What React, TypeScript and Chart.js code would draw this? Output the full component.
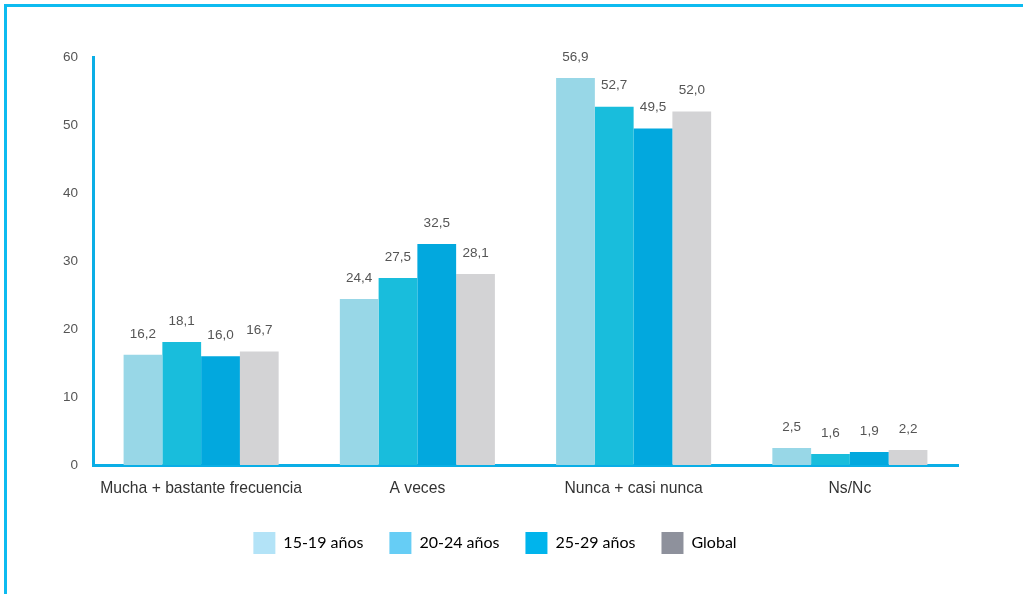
import React, { useEffect, useRef } from "react";
import { Chart, registerables } from "chart.js";

Chart.register(...registerables);

const categories = ["Mucha + bastante frecuencia", "A veces", "Nunca + casi nunca", "Ns/Nc"];
const seriesNames = ["15-19 años", "20-24 años", "25-29 años", "Global"];
const values1519 = [16.2, 24.4, 56.9, 2.5];
const values2024 = [18.1, 27.5, 52.7, 1.6];
const values2529 = [16.0, 32.5, 49.5, 1.9];
const valuesGlobal = [16.7, 28.1, 52.0, 2.2];
const yTicks = [0, 10, 20, 30, 40, 50, 60];

const barColors = ["#98D7E7", "#19BDDC", "#02A8DE", "#D3D3D5"];
const legendColors = ["#B3E3F7", "#66CDF5", "#00B4EC", "#8E919C"];

const valueLabels = {
  id: "valueLabels",
  afterDatasetsDraw(chart: any) {
    const ctx = chart.ctx;
    ctx.save();
    ctx.font = '13.5px "Liberation Sans", Arial, sans-serif';
    ctx.fillStyle = "#555555";
    ctx.textAlign = "center";
    ctx.textBaseline = "middle";
    chart.data.datasets.forEach((ds: any, di: number) => {
      const meta = chart.getDatasetMeta(di);
      meta.data.forEach((el: any, i: number) => {
        const v = ds.data[i] as number;
        ctx.fillText(v.toFixed(1).replace(".", ","), el.x, el.y - 21);
      });
    });
    ctx.restore();
  },
};

export default function App() {
  const ref = useRef<HTMLCanvasElement>(null);
  useEffect(() => {
    if (!ref.current) return;
    const all = [values1519, values2024, values2529, valuesGlobal];
    const chart = new Chart(ref.current, {
      type: "bar",
      data: {
        labels: categories,
        datasets: all.map((d, i) => ({
          label: seriesNames[i],
          data: d,
          backgroundColor: barColors[i],
          borderWidth: 0,
          categoryPercentage: 0.717,
          barPercentage: 1,
        })),
      },
      options: {
        responsive: false,
        animation: false,
        layout: { padding: { left: 32, right: 65, top: 57, bottom: 30 } },
        plugins: {
          tooltip: { enabled: false },
          legend: {
            position: "bottom",
            labels: {
              boxWidth: 22,
              boxHeight: 22,
              padding: 26,
              color: "#3A3A48",
              font: { family: "Lato, 'Open Sans', sans-serif", size: 16 },
              generateLabels: () =>
                seriesNames.map((n, i) => ({
                  text: n,
                  fillStyle: legendColors[i],
                  strokeStyle: legendColors[i],
                  lineWidth: 0,
                  hidden: false,
                  datasetIndex: i,
                })),
            },
          },
        },
        scales: {
          x: {
            grid: { display: false, drawTicks: false },
            border: { display: true, color: "#0AAEE6", width: 3 },
            ticks: {
              color: "#333333",
              padding: 14,
              font: { family: "'Liberation Sans', Arial, sans-serif", size: 15.7 },
            },
            afterFit: (s: any) => {
              s.height = 41;
            },
          },
          y: {
            min: 0,
            max: 60,
            afterBuildTicks: (s: any) => {
              s.ticks = yTicks.map((v) => ({ value: v }));
            },
            grid: { display: false, drawTicks: false },
            border: { display: true, color: "#0AAEE6", width: 3 },
            ticks: {
              color: "#555555",
              padding: 15,
              font: { family: "'Liberation Sans', Arial, sans-serif", size: 13.5 },
            },
            afterFit: (s: any) => {
              s.width = 61;
            },
          },
        },
      },
      plugins: [valueLabels],
    });
    return () => chart.destroy();
  }, []);

  return (
    <div
      style={{
        position: "fixed",
        left: 0,
        top: 0,
        width: 1023,
        height: 594,
        background: "#ffffff",
        overflow: "hidden",
      }}
    >
      <div
        style={{
          position: "absolute",
          left: 4,
          top: 4,
          width: 1100,
          height: 700,
          borderLeft: "3px solid #0DBBF0",
          borderTop: "3px solid #0DBBF0",
        }}
      />
      <canvas ref={ref} width={1023} height={594} style={{ position: "absolute", left: 0, top: 0 }} />
    </div>
  );
}
